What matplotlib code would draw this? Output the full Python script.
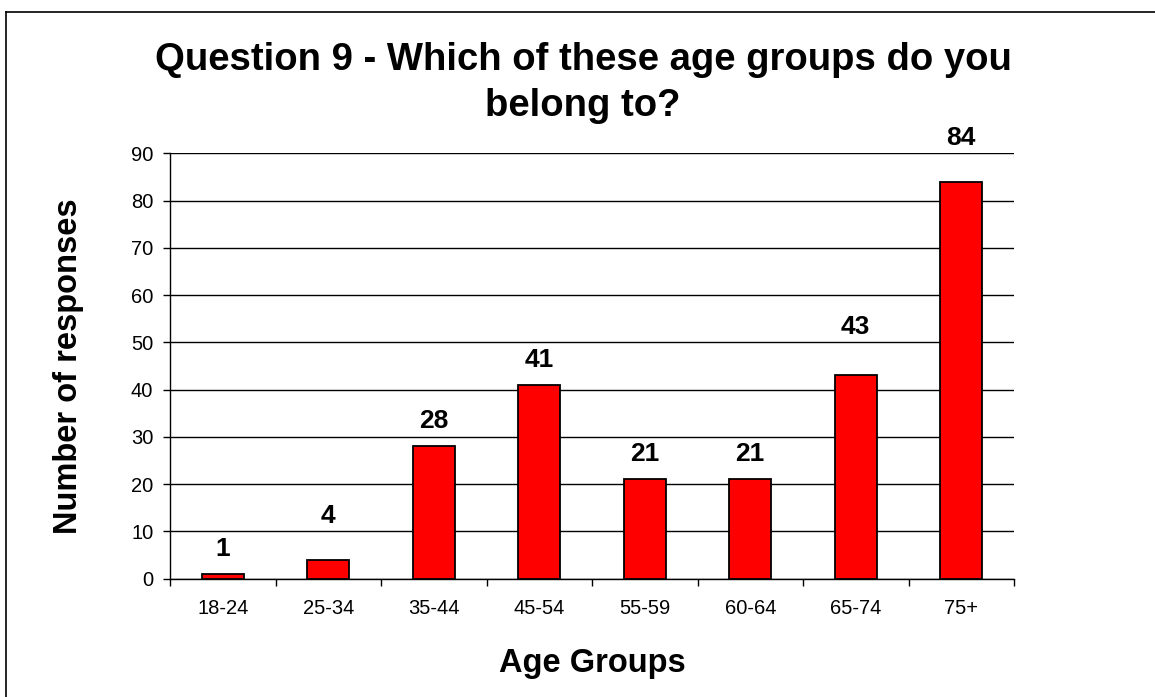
import numpy as np
import matplotlib.pyplot as plt
from matplotlib.lines import Line2D

plt.rcParams['font.family'] = ['Liberation Sans', 'DejaVu Sans']

categorias = ['18-24', '25-34', '35-44', '45-54', '55-59', '60-64', '65-74', '75+']
respuestas = [1, 4, 28, 41, 21, 21, 43, 84]

# separacion (en puntos) entre la etiqueta y la barra
desplaz = [13, 26.5, 13, 13, 13, 13, 29.5, 26.5]

W, H = 1155, 697
fig = plt.figure(figsize=(W / 100, H / 100), dpi=100)
ax = fig.add_axes([170 / W, 1 - 578.5 / H, 844 / W, (578.5 - 153.3) / H])

x = np.arange(len(categorias))
ax.bar(x, respuestas, width=0.4, color='#ff0000', edgecolor='black', linewidth=1.3, zorder=3)

for xi, v, d in zip(x, respuestas, desplaz):
    ax.annotate(str(v), (xi, v), xytext=(0, d), textcoords='offset points',
                ha='center', va='baseline', fontsize=19, fontweight='bold')

ax.set_xlim(-0.5, len(categorias) - 0.5)
ax.set_ylim(0, 90)
ax.set_yticks(np.arange(0, 91, 10))
ax.yaxis.grid(True, color='black', linewidth=1.0, zorder=0)
ax.set_axisbelow(True)

ax.set_xticks(x)
ax.set_xticklabels(categorias, fontsize=14.5)
ax.set_xticks(np.arange(-0.5, len(categorias)), minor=True)
ax.tick_params(axis='x', which='major', length=0, pad=15)
ax.tick_params(axis='x', which='minor', length=5, width=1, direction='out')
ax.tick_params(axis='y', labelsize=14.5, length=5, width=1, direction='out', pad=7)

for lado in ['top', 'right']:
    ax.spines[lado].set_visible(False)
ax.spines['left'].set_linewidth(1)
ax.spines['bottom'].set_linewidth(1)

fig.text(592 / W, 1 - 672 / H, 'Age Groups', ha='center', va='baseline',
         fontsize=23.5, fontweight='bold')
fig.text(69 / W, 1 - 366 / H, 'Number of responses', ha='center', va='center',
         rotation=90, fontsize=23.5, fontweight='bold')

fig.text(583 / W, 1 - 70 / H, 'Question 9 - Which of these age groups do you',
         ha='center', va='baseline', fontsize=27.5, fontweight='bold')
fig.text(583 / W, 1 - 116 / H, 'belong to?',
         ha='center', va='baseline', fontsize=27.5, fontweight='bold')

# marco de la figura (arriba e izquierda)
fig.add_artist(Line2D([6 / W, 1], [1 - 11.7 / H, 1 - 11.7 / H], transform=fig.transFigure,
                      color='black', linewidth=1.2))
fig.add_artist(Line2D([6 / W, 6 / W], [0, 1 - 11.7 / H], transform=fig.transFigure,
                      color='black', linewidth=1.2))

plt.savefig('out.png', dpi=100)
